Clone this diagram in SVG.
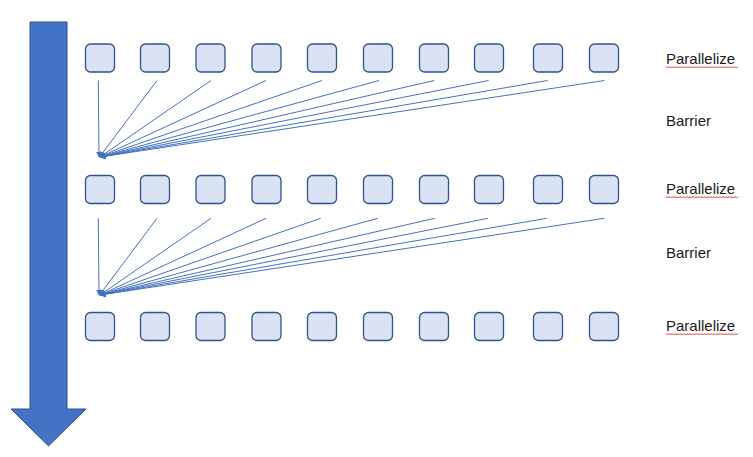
<svg xmlns="http://www.w3.org/2000/svg" width="753" height="457" viewBox="0 0 753 457">
<defs>
<style>
.box{fill:#dae3f3;stroke:#2f528f;stroke-width:1.3}
.ln{stroke:#4472c4;stroke-width:1;fill:none}
.lbl{font-family:"Liberation Sans",Arial,sans-serif;font-size:15px;fill:#1a1a1a}
.sq{stroke:#e02020;stroke-width:0.9;fill:none}
</style>
<marker id="ah" viewBox="0 0 10 10" refX="9" refY="5" markerWidth="6" markerHeight="6" markerUnits="userSpaceOnUse" orient="auto">
<path d="M0,0 L10,5 L0,10 z" fill="#4472c4"/>
</marker>
<rect id="b" class="box" width="29" height="28" rx="5" ry="5"/>
<path id="squig" class="sq" d="M0,0 l1.5,1.5 l1.5,-1.5 l1.5,1.5 l1.5,-1.5 l1.5,1.5 l1.5,-1.5 l1.5,1.5 l1.5,-1.5 l1.5,1.5 l1.5,-1.5 l1.5,1.5 l1.5,-1.5 l1.5,1.5 l1.5,-1.5 l1.5,1.5 l1.5,-1.5 l1.5,1.5 l1.5,-1.5 l1.5,1.5 l1.5,-1.5 l1.5,1.5 l1.5,-1.5 l1.5,1.5 l1.5,-1.5 l1.5,1.5 l1.5,-1.5 l1.5,1.5 l1.5,-1.5 l1.5,1.5 l1.5,-1.5 l1.5,1.5 l1.5,-1.5 l1.5,1.5 l1.5,-1.5 l1.5,1.5 l1.5,-1.5 l1.5,1.5 l1.5,-1.5 l1.5,1.5 l1.5,-1.5 l1.5,1.5 l1.5,-1.5 l1.5,1.5 l1.5,-1.5 l1.5,1.5 l1.5,-1.5 l1.5,1.5 l1.5,-1.5"/>
</defs>
<rect width="753" height="457" fill="#ffffff"/>

<g id="timeline">
<path d="M30,22 L67,22 L67,409 L86,409 L48.5,446 L11,409 L30,409 Z" fill="#4472c4" stroke="#2f528f" stroke-width="1"/>
</g>

<g id="row1">
<use href="#b" x="85.5" y="44"/><use href="#b" x="140.5" y="44"/><use href="#b" x="196" y="44"/><use href="#b" x="252" y="44"/><use href="#b" x="307.5" y="44"/><use href="#b" x="363.5" y="44"/><use href="#b" x="419.5" y="44"/><use href="#b" x="474.5" y="44"/><use href="#b" x="533.5" y="44"/><use href="#b" x="589.5" y="44"/>
</g>
<g id="row2">
<use href="#b" x="85.5" y="175.5"/><use href="#b" x="140.5" y="175.5"/><use href="#b" x="196" y="175.5"/><use href="#b" x="252" y="175.5"/><use href="#b" x="307.5" y="175.5"/><use href="#b" x="363.5" y="175.5"/><use href="#b" x="419.5" y="175.5"/><use href="#b" x="474.5" y="175.5"/><use href="#b" x="533.5" y="175.5"/><use href="#b" x="589.5" y="175.5"/>
</g>
<g id="row3">
<use href="#b" x="85.5" y="312.5"/><use href="#b" x="140.5" y="312.5"/><use href="#b" x="196" y="312.5"/><use href="#b" x="252" y="312.5"/><use href="#b" x="307.5" y="312.5"/><use href="#b" x="363.5" y="312.5"/><use href="#b" x="419.5" y="312.5"/><use href="#b" x="474.5" y="312.5"/><use href="#b" x="533.5" y="312.5"/><use href="#b" x="589.5" y="312.5"/>
</g>

<g id="connectors" marker-end="url(#ah)">
<line class="ln" x1="98.3" y1="80.5" x2="99" y2="157" marker-end="url(#ah)"/>
<line class="ln" x1="157" y1="80.5" x2="99.5" y2="157" marker-end="url(#ah)"/>
<line class="ln" x1="211" y1="80.5" x2="100" y2="157" marker-end="url(#ah)"/>
<line class="ln" x1="266" y1="80.5" x2="100" y2="157" marker-end="url(#ah)"/>
<line class="ln" x1="322" y1="80.5" x2="100" y2="157" marker-end="url(#ah)"/>
<line class="ln" x1="379" y1="80.5" x2="100" y2="157" marker-end="url(#ah)"/>
<line class="ln" x1="434.3" y1="80.5" x2="100" y2="157" marker-end="url(#ah)"/>
<line class="ln" x1="488.7" y1="80.5" x2="100" y2="157" marker-end="url(#ah)"/>
<line class="ln" x1="547.7" y1="80.5" x2="100" y2="157" marker-end="url(#ah)"/>
<line class="ln" x1="604.3" y1="80.5" x2="100" y2="157" marker-end="url(#ah)"/>

<line class="ln" x1="98.3" y1="218.3" x2="99" y2="295" marker-end="url(#ah)"/>
<line class="ln" x1="157" y1="218.3" x2="99.5" y2="295" marker-end="url(#ah)"/>
<line class="ln" x1="211" y1="218.3" x2="100" y2="295" marker-end="url(#ah)"/>
<line class="ln" x1="266" y1="218.3" x2="100" y2="295" marker-end="url(#ah)"/>
<line class="ln" x1="320.7" y1="218.3" x2="100" y2="295" marker-end="url(#ah)"/>
<line class="ln" x1="377.7" y1="218.3" x2="100" y2="295" marker-end="url(#ah)"/>
<line class="ln" x1="434.7" y1="218.3" x2="100" y2="295" marker-end="url(#ah)"/>
<line class="ln" x1="488" y1="218.3" x2="100" y2="295" marker-end="url(#ah)"/>
<line class="ln" x1="546.7" y1="218.3" x2="100" y2="295" marker-end="url(#ah)"/>
<line class="ln" x1="604.3" y1="218.3" x2="100" y2="295" marker-end="url(#ah)"/>
</g>

<g id="labels">
<text class="lbl" x="666" y="64">Parallelize</text>
<use href="#squig" x="666" y="66.5"/>
<text class="lbl" x="666" y="126">Barrier</text>
<text class="lbl" x="666" y="194">Parallelize</text>
<use href="#squig" x="666" y="196.5"/>
<text class="lbl" x="666" y="258">Barrier</text>
<text class="lbl" x="666" y="331">Parallelize</text>
<use href="#squig" x="666" y="333.5"/>
</g>
</svg>
